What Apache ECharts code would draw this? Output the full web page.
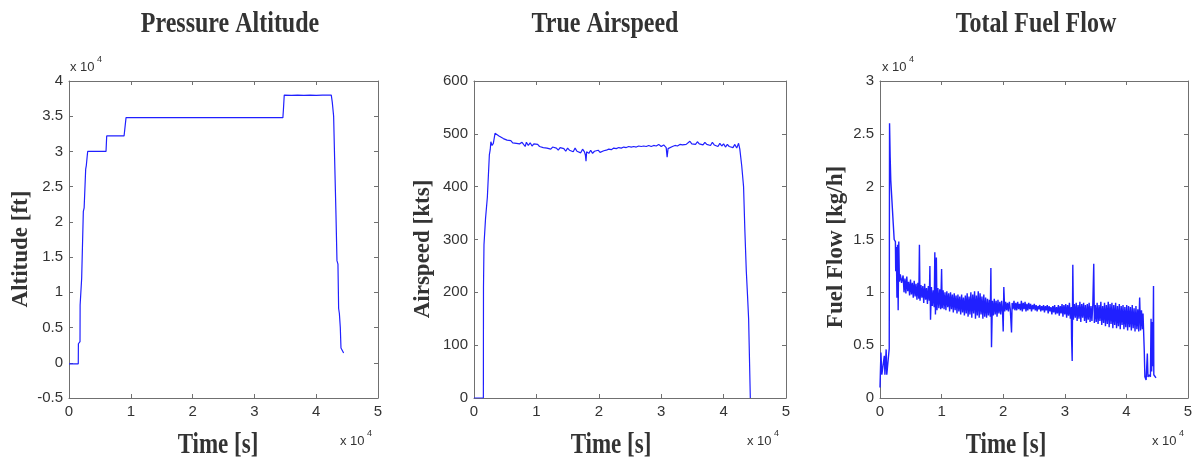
<!DOCTYPE html>
<html>
<head>
<meta charset="utf-8">
<script src="https://cdn.jsdelivr.net/npm/echarts@6/dist/echarts.min.js"></script>
<style>
  html, body { margin: 0; padding: 0; background: #fff; }
  #main { width: 1198px; height: 459px; }
</style>
</head>
<body>
<div id="main"></div>
<script>
// time in seconds, values in real units (axes show them / 10^4 where needed)
var altitudeData = [
  [0, -150], [1500, -150], [1520, 2700], [1780, 3000], [1800, 8200], [2050, 12000],
  [2320, 21500], [2450, 22000], [2700, 27500], [2800, 28000], [3020, 30000],
  [5990, 30000], [6100, 32200], [8910, 32200], [9230, 34800], [34610, 34800],
  [34700, 36000], [34830, 38000], [36000, 37950], [37000, 38000], [38000, 37950],
  [39000, 38000], [40000, 37950], [41000, 38000], [42440, 38000], [42600, 37000],
  [42820, 35000], [42980, 29000], [43200, 21000], [43360, 14500], [43520, 14000],
  [43630, 7700], [43750, 7000], [43900, 5000], [44010, 2100], [44440, 1400]
];

var airspeedData = [
  [0, 0], [1500, 0], [1520, 210], [1600, 290], [1760, 290], [1850, 340], [2140, 380],
  [2460, 460], [2600, 470], [2700, 485], [2890, 478], [3100, 482], [3370, 501],
  [3600, 499], [4000, 496], [4300, 494], [4700, 491], [5000, 490], [5300, 488],
  [5600, 486], [5900, 487], [6200, 483], [6500, 485], [6800, 482], [7000, 485],
  [7300, 481], [7700, 484], [8000, 482], [8200, 476], [8400, 484], [8700, 478],
  [9000, 483], [9300, 477], [9600, 481], [9900, 478], [10200, 480], [10500, 476],
  [10800, 477], [11100, 474], [11400, 476], [11700, 473], [12000, 474], [12300, 471],
  [12600, 475], [12900, 472], [13200, 473], [13500, 469], [13800, 474], [14100, 471],
  [14400, 472], [14700, 467], [15000, 473], [15300, 469], [15600, 471], [15900, 466],
  [16200, 473], [16500, 467], [16800, 470], [17100, 464], [17400, 471], [17700, 466],
  [17850, 460], [17950, 448], [18050, 466], [18400, 463], [18700, 469], [19000, 463],
  [19300, 467], [19600, 464], [19900, 469], [20200, 465], [20500, 467], [20800, 468],
  [21200, 469], [21600, 471], [22000, 470], [22400, 473], [22800, 472], [23200, 474],
  [23600, 473], [24000, 475], [24400, 474], [24800, 476], [25200, 475], [25600, 476],
  [26000, 475], [26400, 477], [26800, 476], [27200, 477], [27600, 476], [28000, 478],
  [28400, 476], [28800, 478], [29200, 477], [29600, 480], [30000, 476], [30400, 479],
  [30800, 474], [30950, 456], [31100, 472], [31400, 474], [31800, 476], [32200, 478],
  [32600, 477], [33000, 480], [33400, 479], [33700, 482], [34000, 480], [34300, 483],
  [34600, 486], [34900, 481], [35200, 484], [35500, 480], [35800, 485], [36100, 481],
  [36400, 483], [36700, 479], [37000, 484], [37300, 480], [37600, 482], [37900, 478],
  [38200, 484], [38500, 479], [38800, 482], [39100, 476], [39400, 482], [39700, 477],
  [40000, 481], [40300, 475], [40600, 480], [40900, 476], [41200, 479], [41500, 474],
  [41800, 480], [42100, 473], [42400, 482], [42600, 471], [42700, 470], [42900, 440],
  [43200, 400], [43400, 320], [43640, 240], [43850, 190], [44010, 150], [44100, 150],
  [44280, 0]
];

var fuelFlowData = [
  [0, 1000], [150, 4300], [300, 2200], [600, 2200], [700, 4000], [800, 2200],
  [900, 2200], [1000, 4600], [1100, 2200], [1400, 2200], [1500, 4700], [1550, 26000],
  [1650, 22800], [1750, 20600], [2000, 20500], [2150, 16500], [2300, 15000],
  [2500, 14800], [2550, 12000], [2650, 14300], [2750, 9500], [2850, 14500],
  [2950, 8300], [3050, 14800], [3150, 11000], [3300, 11700], [3500, 10900],
  [3750, 11600], [3900, 10000], [4050, 11300], [4200, 9900], [4350, 11500],
  [4500, 10100], [4650, 11000], [4800, 9700], [4950, 11200], [5100, 9800],
  [5250, 10900], [5400, 9500], [5550, 11100], [5700, 9600], [5850, 10800],
  [6000, 9300], [6150, 10900], [6300, 9400], [6400, 14500], [6500, 9200],
  [6650, 10700], [6800, 9500], [6950, 10600], [7100, 9000], [7250, 10800],
  [7400, 9300], [7550, 10400], [7700, 8900], [7850, 10600], [8000, 9200],
  [8100, 12500], [8200, 7400], [8350, 10500], [8500, 8700], [8650, 10200],
  [8800, 8600], [8900, 13800], [9000, 7900], [9150, 13300], [9250, 8300],
  [9400, 10400], [9550, 8500], [9700, 10300], [9850, 8400], [10000, 12200],
  [10100, 8500], [10250, 10200], [10400, 8400], [10550, 10000], [10700, 8300],
  [10850, 10100], [11000, 8600], [11150, 9900], [11300, 8200], [11450, 10000],
  [11600, 8400], [11750, 9800], [11900, 8100], [12050, 9900], [12200, 8300],
  [12350, 9700], [12500, 8000], [12650, 9800], [12800, 8200], [12950, 9600],
  [13100, 7900], [13250, 9800], [13400, 8100], [13550, 9500], [13700, 7800],
  [13850, 9700], [14000, 8000], [14150, 9900], [14300, 7700], [14450, 9600],
  [14600, 7900], [14750, 10000], [14900, 7600], [15050, 9800], [15200, 8000],
  [15350, 10100], [15500, 7500], [15650, 9700], [15800, 7800], [15950, 10100],
  [16100, 7600], [16250, 9900], [16400, 7900], [16550, 9600], [16700, 7500],
  [16850, 9800], [17000, 7700], [17150, 9500], [17300, 7600], [17450, 9400],
  [17600, 7800], [17750, 9300], [17900, 7700], [18000, 12300], [18100, 4800],
  [18250, 9200], [18400, 7800], [18550, 9400], [18700, 7900], [18850, 9200],
  [19000, 7700], [19150, 9300], [19300, 8000], [19450, 9100], [19600, 7900],
  [19750, 9200], [19900, 8100], [20000, 6300], [20100, 10500], [20250, 8200],
  [20400, 9100], [20550, 8300], [20700, 9000], [20850, 8200], [21000, 9100],
  [21150, 8400], [21350, 6200], [21450, 9000], [21600, 8400], [21750, 9200],
  [21900, 8300], [22050, 9000], [22200, 8300], [22350, 9100], [22500, 8400],
  [22650, 8900], [22800, 8300], [22950, 9200], [23100, 8200], [23250, 9000],
  [23400, 8400], [23550, 9100], [23700, 8200], [23850, 8900], [24000, 8300],
  [24150, 9000], [24300, 8400], [24450, 8900], [24600, 8200], [24750, 8800],
  [24900, 8400], [25050, 8900], [25200, 8300], [25350, 8800], [25500, 8200],
  [25650, 8700], [25800, 8400], [25950, 8800], [26100, 8200], [26250, 8700],
  [26400, 8300], [26550, 8800], [26700, 8100], [26850, 8700], [27000, 8300],
  [27150, 8800], [27300, 8000], [27450, 8700], [27600, 8200], [27750, 8600],
  [27900, 7900], [28050, 8700], [28200, 8100], [28350, 8800], [28500, 7900],
  [28650, 8600], [28800, 8000], [28950, 8800], [29100, 7800], [29250, 8700],
  [29400, 8000], [29550, 8900], [29700, 7700], [29850, 8800], [30000, 7900],
  [30150, 8900], [30300, 7600], [30450, 8800], [30600, 7800], [30750, 9000],
  [30900, 7500], [31050, 8600], [31100, 5600], [31200, 3500], [31300, 12600],
  [31400, 7400], [31550, 8900], [31700, 7600], [31850, 9000], [32000, 7300],
  [32150, 8800], [32300, 7500], [32450, 9100], [32600, 7200], [32750, 8900],
  [32900, 7600], [33050, 9000], [33200, 7300], [33350, 8800], [33500, 7100],
  [33650, 8900], [33800, 7400], [33950, 9000], [34100, 7200], [34250, 8700],
  [34400, 7300], [34550, 8900], [34700, 12700], [34800, 7100], [34950, 8800],
  [35100, 7200], [35250, 9000], [35400, 7000], [35550, 8800], [35700, 7300],
  [35850, 9100], [36000, 6900], [36150, 8700], [36300, 7100], [36450, 9000],
  [36600, 6800], [36750, 8800], [36900, 7000], [37050, 9100], [37200, 6700],
  [37350, 8900], [37500, 7000], [37650, 9000], [37800, 6600], [37950, 8800],
  [38100, 6900], [38250, 9000], [38400, 6600], [38550, 8700], [38700, 6800],
  [38850, 8900], [39000, 6500], [39150, 8700], [39300, 6900], [39450, 8800],
  [39600, 6500], [39750, 8600], [39900, 6700], [40050, 8800], [40200, 6400],
  [40350, 8700], [40500, 6700], [40650, 8600], [40800, 6400], [40950, 8800],
  [41100, 6600], [41250, 8500], [41400, 6300], [41550, 8700], [41700, 6500],
  [41850, 8400], [42000, 6300], [42150, 9500], [42300, 6400], [42450, 8300],
  [42600, 6500], [42700, 8000], [42800, 6200], [42900, 4500], [43000, 2000],
  [43200, 1700], [43400, 4200], [43500, 2000], [43700, 2200], [43900, 2000],
  [44000, 7500], [44100, 2500], [44200, 7200], [44300, 3000], [44400, 10600],
  [44450, 2200], [44800, 1900]
];

var titles = ['Pressure Altitude', 'True Airspeed', 'Total Fuel Flow'];
var yNames = ['Altitude [ft]', 'Airspeed [kts]', 'Fuel Flow [kg/h]'];
var xName = 'Time [s]';

var myChart = echarts.init(document.getElementById('main'));

var labelColor = '#333333';
var lineColor = '#707070';

// axis labels shown in units of 10^4
function tenK(v) {
  return String(Math.round(v / 1000) / 10);
}

function xAxisPair(gi) {
  var base = {
    gridIndex: gi, type: 'value', min: 0, max: 50000, interval: 10000,
    axisLine: { show: true, onZero: false, lineStyle: { color: lineColor, width: 1 } },
    axisTick: { show: true, inside: true, length: 4, lineStyle: { color: lineColor } },
    splitLine: { show: false }
  };
  var bottom = echarts.util.merge({
    position: 'bottom',
    axisLabel: { show: true, margin: 6, color: labelColor, fontSize: 15, fontFamily: 'Liberation Sans', formatter: tenK }
  }, base);
  var top = echarts.util.merge({ position: 'top', axisLabel: { show: false } }, base);
  return [bottom, top];
}

function yAxisPair(gi, min, max, interval, fmt) {
  var base = {
    gridIndex: gi, type: 'value', min: min, max: max, interval: interval,
    axisLine: { show: true, onZero: false, lineStyle: { color: lineColor, width: 1 } },
    axisTick: { show: true, inside: true, length: 4, lineStyle: { color: lineColor } },
    splitLine: { show: false }
  };
  var left = echarts.util.merge({
    position: 'left',
    axisLabel: { show: true, margin: 6, color: labelColor, fontSize: 15, fontFamily: 'Liberation Sans', formatter: fmt }
  }, base);
  var right = echarts.util.merge({ position: 'right', axisLabel: { show: false } }, base);
  return [left, right];
}

var xAxes = [].concat(xAxisPair(0), xAxisPair(1), xAxisPair(2));
var yAxes = [].concat(
  yAxisPair(0, -5000, 40000, 5000, tenK),
  yAxisPair(1, 0, 600, 100, null),
  yAxisPair(2, 0, 30000, 5000, tenK)
);

function textEl(text, x, y, opts) {
  opts = opts || {};
  return {
    type: 'text', x: x, y: y, rotation: opts.rotation || 0,
    scaleX: opts.scaleX || 1, scaleY: opts.scaleY || 1,
    style: {
      text: text,
      font: opts.font,
      fill: opts.fill || '#333333',
      textAlign: opts.align || 'center',
      textVerticalAlign: 'middle'
    },
    silent: true
  };
}

var titleFont = 'bold 24px "Liberation Serif"';
var nameFont = 'bold 23px "Liberation Serif"';
var smallFont = '13px "Liberation Sans"';
var supFont = '9px "Liberation Sans"';

var graphics = [
  textEl(titles[0], 230, 24, { font: titleFont, scaleY: 1.25 }),
  textEl(titles[1], 605, 24, { font: titleFont, scaleY: 1.25 }),
  textEl(titles[2], 1036, 24, { font: titleFont, scaleY: 1.25 }),
  textEl(xName, 218, 446, { font: nameFont, scaleY: 1.25 }),
  textEl(xName, 611, 446, { font: nameFont, scaleY: 1.25 }),
  textEl(xName, 1006, 446, { font: nameFont, scaleY: 1.25 }),
  textEl(yNames[0], 21, 249, { font: nameFont, rotation: Math.PI / 2 }),
  textEl(yNames[1], 423, 249, { font: nameFont, rotation: Math.PI / 2 }),
  textEl(yNames[2], 836, 247, { font: nameFont, rotation: Math.PI / 2 }),
  // x 10^4 exponent labels
  textEl('x 10', 340, 441, { font: smallFont, align: 'left' }),
  textEl('4', 367, 434, { font: supFont, align: 'left' }),
  textEl('x 10', 747, 441, { font: smallFont, align: 'left' }),
  textEl('4', 774, 434, { font: supFont, align: 'left' }),
  textEl('x 10', 1152, 441, { font: smallFont, align: 'left' }),
  textEl('4', 1179, 434, { font: supFont, align: 'left' }),
  textEl('x 10', 70, 67, { font: smallFont, align: 'left' }),
  textEl('4', 97, 60, { font: supFont, align: 'left' }),
  textEl('x 10', 882, 67, { font: smallFont, align: 'left' }),
  textEl('4', 909, 60, { font: supFont, align: 'left' })
];

function lineSeries(idx, data, width) {
  return {
    type: 'line', xAxisIndex: idx * 2, yAxisIndex: idx * 2,
    data: data, showSymbol: false, symbol: 'none',
    lineStyle: { color: '#2020ff', width: width },
    animation: false
  };
}

myChart.setOption({
  backgroundColor: '#ffffff',
  animation: false,
  grid: [
    { left: 69, top: 81, width: 309, height: 317 },
    { left: 474, top: 81, width: 312, height: 317 },
    { left: 880, top: 81, width: 308, height: 317 }
  ],
  xAxis: xAxes,
  yAxis: yAxes,
  graphic: graphics,
  series: [
    lineSeries(0, altitudeData, 1.2),
    lineSeries(1, airspeedData, 1.2),
    lineSeries(2, fuelFlowData, 1.4)
  ]
});
</script>
</body>
</html>
